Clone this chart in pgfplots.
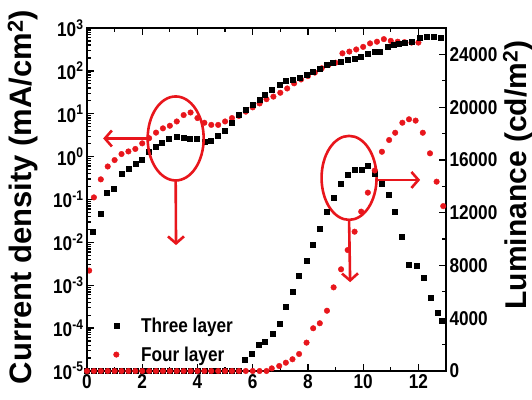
\documentclass[border=0pt]{standalone}
\usepackage{pgfplots}
\pgfplotsset{compat=1.18}
\usepackage{fontspec}
\setmainfont{Liberation Sans}
\newfontfamily\condfont[FakeStretch=0.86]{Liberation Sans Bold}
\usetikzlibrary{arrows.meta}
\definecolor{myred}{RGB}{232,22,28}

\begin{document}
\begin{tikzpicture}
\pgfplotsset{
  every axis/.append style={
    scale only axis, width=359pt, height=343pt,
    xmin=0, xmax=13,
    axis line style={line width=2.6pt},
    every tick/.style={line width=1.3pt, black},
    major tick length=7pt, minor tick length=4pt,
    tick align=inside,
    /pgf/number format/assume math mode=true,
    tick label style={font=\condfont\fontsize{20}{22}\selectfont},
  }
}
\begin{axis}[
  at={(0,0)}, anchor=south west,
  ymode=log, ymin=1e-5, ymax=1e3,
  ytick={1e-5,1e-4,1e-3,1e-2,1e-1,1,1e1,1e2,1e3},
  yticklabels={10\textsuperscript{-5},10\textsuperscript{-4},10\textsuperscript{-3},10\textsuperscript{-2},10\textsuperscript{-1},10\textsuperscript{0},10\textsuperscript{1},10\textsuperscript{2},10\textsuperscript{3}},
  ytick pos=left,
  xtick={0,2,4,6,8,10,12}, minor x tick num=1, xtick pos=both,
  ylabel={Current density (mA/cm\textsuperscript{2})},
  ylabel style={font=\fontsize{31}{34}\selectfont\bfseries, at={(rel axis cs:-0.178,0.507)}, anchor=center, rotate=0},
]
\addplot[only marks, mark=*, mark size=2.8pt, color=myred, mark options={draw=none, fill=myred}] coordinates {
(0.08,0.0022)(0.25,0.112)(0.5,0.295)(0.75,0.589)(1.0,0.832)(1.25,1.15)(1.5,1.32)(1.75,1.51)
(2.0,2.04)(2.25,2.69)(2.5,3.63)(2.75,4.57)(3.0,5.25)(3.25,6.61)(3.5,9.33)(3.75,10.7)
(4.0,7.94)(4.25,6.17)(4.5,5.50)(4.75,5.50)(5.0,6.61)(5.25,7.94)(5.5,8.91)(5.75,11.2)
(6.0,14.1)(6.25,17.4)(6.5,21.9)(6.75,25.1)(7.0,30.9)(7.25,38.9)(7.5,51.3)(7.75,63.1)
(8.0,75.9)(8.25,91.2)(8.5,115)(8.75,138)(9.0,155)(9.25,257)(9.5,282)(9.75,316)
(10.0,363)(10.25,437)(10.5,479)(10.75,550)(11.0,501)(11.25,479)(11.5,468)(11.75,457)(12.0,457)
};
\addplot[only marks, mark=square*, mark size=2.5pt, color=black, mark options={draw=none, fill=black}] coordinates {
(0.22,0.0182)(0.49,0.0457)(0.73,0.141)(0.97,0.182)(1.27,0.407)(1.51,0.537)(1.75,0.676)(1.99,0.832)
(2.23,1.32)(2.47,1.70)(2.71,2.14)(2.95,2.57)(3.25,2.95)(3.5,2.82)(3.73,2.69)(3.97,2.57)
(4.25,2.29)(4.48,2.34)(4.72,3.02)(4.97,3.98)(5.24,6.17)(5.5,9.33)(5.75,12.6)(6.0,16.6)
(6.25,21.4)(6.45,28.2)(6.69,35.5)(6.96,46.8)(7.2,57.5)(7.44,61.7)(7.7,70.8)(7.95,83.2)
(8.19,95.5)(8.43,110)(8.67,138)(8.91,155)(9.2,162)(9.44,178)(9.68,195)(9.92,214)
(10.16,245)(10.4,282)(10.6,275)(10.88,363)(11.1,398)(11.3,437)(11.5,457)(11.75,479)
(12.05,603)(12.3,617)(12.55,617)(12.8,603)
};
\end{axis}
\begin{axis}[
  at={(0,0)}, anchor=south west,
  ymin=0, ymax=26000,
  ytick={0,4000,8000,12000,16000,20000,24000}, minor y tick num=1,
  ytick pos=right, yticklabel pos=right,
  scaled y ticks=false,
  yticklabel style={/pgf/number format/1000 sep={}},
  xtick=\empty,
  ylabel={Luminance (cd/m\textsuperscript{2})},
  ylabel style={font=\fontsize{30}{33}\selectfont\bfseries, at={(rel axis cs:1.2,0.571)}, anchor=center, rotate=0},
  legend style={draw=none, fill=none, at={(rel axis cs:0.065,0.168)}, anchor=north west,
    font=\condfont\fontsize{20}{22}\selectfont, row sep=9pt},
  legend cell align=left,
]
\addplot[only marks, mark=square*, mark size=2.5pt, color=black, mark options={draw=none, fill=black}] coordinates {
(0,0)(0.25,0)(0.5,0)(0.75,0)(1,0)(1.25,0)(1.5,0)(1.75,0)(2,0)(2.25,0)(2.5,0)(2.75,0)
(3,0)(3.25,0)(3.5,0)(3.75,0)(4,0)(4.25,0)(4.5,0)(4.75,0)(5,0)(5.25,0)(5.5,0)
(5.72,834)(5.96,1290)(6.2,1970)(6.44,2220)(6.72,2860)(6.96,3560)(7.2,4880)(7.44,6010)
(7.68,7200)(7.95,8340)(8.19,9550)(8.43,10820)(8.69,12080)(8.93,13160)(9.18,14170)
(9.45,14860)(9.69,15240)(9.93,15240)(10.17,15540)(10.4,14990)(10.67,14230)(10.92,13340)
(11.16,12080)(11.4,10180)(11.66,8030)(11.94,7980)(12.18,7100)(12.46,5590)(12.7,4450)(12.85,3800)
};
\addlegendentry{\hspace{20pt}Three layer}
\addplot[only marks, mark=*, mark size=2.8pt, color=myred, mark options={draw=none, fill=myred}] coordinates {
(0,0)(0.25,0)(0.5,0)(0.75,0)(1,0)(1.25,0)(1.5,0)(1.75,0)(2,0)(2.25,0)(2.5,0)(2.75,0)
(3,0)(3.25,0)(3.5,0)(3.75,0)(4,0)(4.25,0)(4.5,0)(4.75,0)(5,0)(5.25,0)(5.5,0)(5.75,0)
(6,0)(6.25,0)(6.5,0)
(6.69,200)(6.96,380)(7.2,630)(7.44,890)(7.68,1290)(7.95,2150)(8.19,3240)(8.43,3620)
(8.69,4570)(8.93,6340)(9.2,7710)(9.44,9170)(9.69,10560)(9.93,12080)(10.17,13520)
(10.42,15200)(10.68,16620)(10.94,17510)(11.16,18060)(11.42,18820)(11.66,19080)
(11.9,18980)(12.16,18060)(12.42,16500)(12.66,14350)(12.9,12500)
};
\addlegendentry{\hspace{20pt}Four layer}
% annotations
\draw[myred, line width=2.6pt] (rel axis cs:0.247,0.678) ellipse [x radius=28pt, y radius=42pt];
\draw[myred, line width=2.6pt, -{Straight Barb[length=7pt,width=16pt,line width=2.6pt]}] (rel axis cs:0.247,0.556) -- (rel axis cs:0.248,0.367);
\draw[myred, line width=2.6pt, -{Straight Barb[length=7pt,width=16pt,line width=2.6pt]}] (rel axis cs:0.170,0.678) -- (rel axis cs:0.045,0.678);
\draw[myred, line width=2.6pt] (rel axis cs:0.730,0.563) ellipse [x radius=27.5pt, y radius=42pt];
\draw[myred, line width=2.6pt, -{Straight Barb[length=7pt,width=16pt,line width=2.6pt]}] (rel axis cs:0.730,0.440) -- (rel axis cs:0.733,0.259);
\draw[myred, line width=2.6pt, -{Straight Barb[length=7pt,width=16pt,line width=2.6pt]}] (rel axis cs:0.808,0.557) -- (rel axis cs:0.928,0.557);
\end{axis}
\pgfresetboundingbox
\path (-87pt,-28pt) rectangle (445pt,371pt);
\end{tikzpicture}
\end{document}
